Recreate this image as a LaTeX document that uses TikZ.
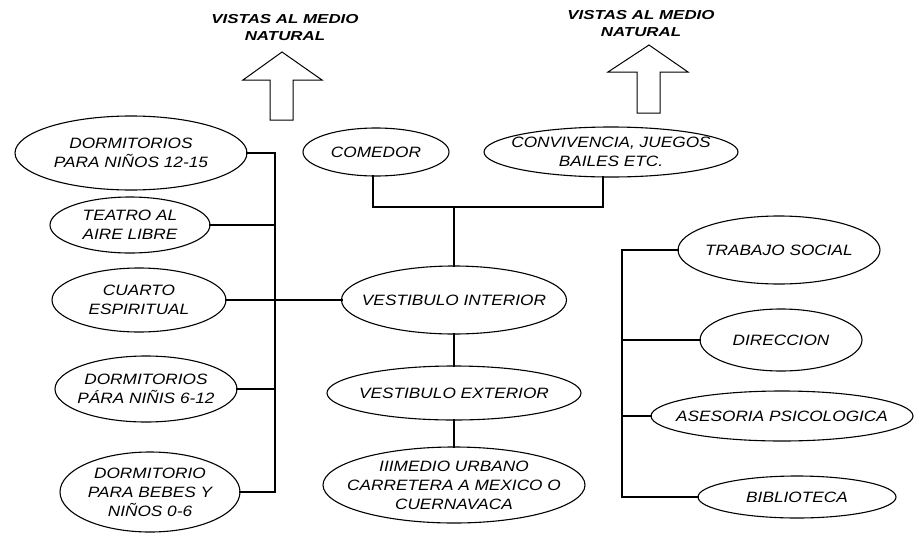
\documentclass[tikz,border=0pt]{standalone}
\usepackage{fontspec}
\newfontfamily\lblfont{Liberation Sans}[FakeStretch=1.15]
\newfontfamily\vistafont{Liberation Sans}[FakeStretch=1.3]
\usetikzlibrary{shapes.geometric}
\begin{document}
\begin{tikzpicture}[x=1pt,y=-1pt,
  ell/.style 2 args={draw, ellipse, line width=1.1pt, minimum width=#1, minimum height=#2, inner sep=0pt, outer sep=0pt},
  txt/.style={font=\lblfont\itshape\fontsize{15}{19}\selectfont, align=center, inner sep=0pt},
  vista/.style={font=\vistafont\bfseries\itshape\fontsize{13}{17}\selectfont, align=center, inner sep=0pt},
  conn/.style={line width=2.6pt, line cap=rect, line join=miter},
  blockarrow/.style={draw, line width=1pt, line join=miter}]
\useasboundingbox (0,0) rectangle (915,533);
\fill[white] (0,0) rectangle (915,533);

% top labels and arrows
\node[vista] (v1) at (285,28) {VISTAS AL MEDIO\\NATURAL};
\node[vista] (v2) at (641,24) {VISTAS AL MEDIO\\NATURAL};
\draw[blockarrow] (270,120) -- (270,80) -- (243,80) -- (282,52) -- (322,80) -- (293,80) -- (293,120) -- cycle;
\draw[blockarrow] (637,113) -- (637,72) -- (608,72) -- (649,45) -- (688,72) -- (660,72) -- (660,113) -- cycle;

% left column
\node[ell={232pt}{74pt}, label={[txt]center:{DORMITORIOS\\PARA NIÑOS 12-15}}] (d1) at (131,153) {};
\node[ell={160pt}{56pt}, label={[txt]center:{TEATRO AL\\AIRE LIBRE}}] (d2) at (130,225) {};
\node[ell={174pt}{64pt}, label={[txt]center:{CUARTO\\ESPIRITUAL}}] (d3) at (139,300) {};
\node[ell={182pt}{66pt}, label={[txt]center:{DORMITORIOS\\PÁRA NIÑIS 6-12}}] (d4) at (146,389) {};
\node[ell={180pt}{80pt}, label={[txt]center:{DORMITORIO\\PARA BEBES Y\\NIÑOS 0-6}}] (d5) at (150,492) {};

% centre column
\node[ell={146pt}{48pt}, label={[txt]center:{COMEDOR}}] (com) at (376,152) {};
\node[ell={254pt}{50pt}, label={[txt]center:{CONVIVENCIA, JUEGOS\\BAILES ETC.}}] (conv) at (611,152) {};
\node[ell={225pt}{68pt}, label={[txt]center:{VESTIBULO INTERIOR}}] (vi) at (454,300) {};
\node[ell={254pt}{54pt}, label={[txt]center:{VESTIBULO EXTERIOR}}] (ve) at (454,393) {};
\node[ell={262pt}{76pt}, label={[txt]center:{IIIMEDIO URBANO\\CARRETERA A MEXICO O\\CUERNAVACA}}] (mu) at (454,485) {};

% right column
\node[ell={202pt}{68pt}, label={[txt]center:{TRABAJO SOCIAL}}] (ts) at (779,250) {};
\node[ell={162pt}{62pt}, label={[txt]center:{DIRECCION}}] (dir) at (781,340) {};
\node[ell={262pt}{50pt}, label={[txt]center:{ASESORIA PSICOLOGICA}}] (ase) at (782,416) {};
\node[ell={198pt}{42pt}, label={[txt]center:{BIBLIOTECA}}] (bib) at (797,497) {};

% connectors
\coordinate (sl) at (275,153);
\coordinate (slb) at (275,492);
\coordinate (j) at (454,207);
\coordinate (sr) at (622,250);
\coordinate (srb) at (622,497);

\draw[conn] (d1.east) -- (sl) -- (slb) -- (d5.east);
\draw[conn] (d2.east) -- (d2.east -| sl);
\draw[conn] (d4.east) -- (d4.east -| sl);
\draw[conn] (d3.east) -- (vi.west);

\draw[conn] ([xshift=-3pt]com.south) |- (j) -| ([xshift=-8pt]conv.south);
\draw[conn] (j) -- (vi.north);
\draw[conn] (vi.south) -- (ve.north);
\draw[conn] (ve.south) -- (mu.north);

\draw[conn] (ts.west) -- (sr) -- (srb) -- (bib.west);
\draw[conn] (dir.west) -- (dir.west -| sr);
\draw[conn] (ase.west) -- (ase.west -| sr);
\end{tikzpicture}
\end{document}
